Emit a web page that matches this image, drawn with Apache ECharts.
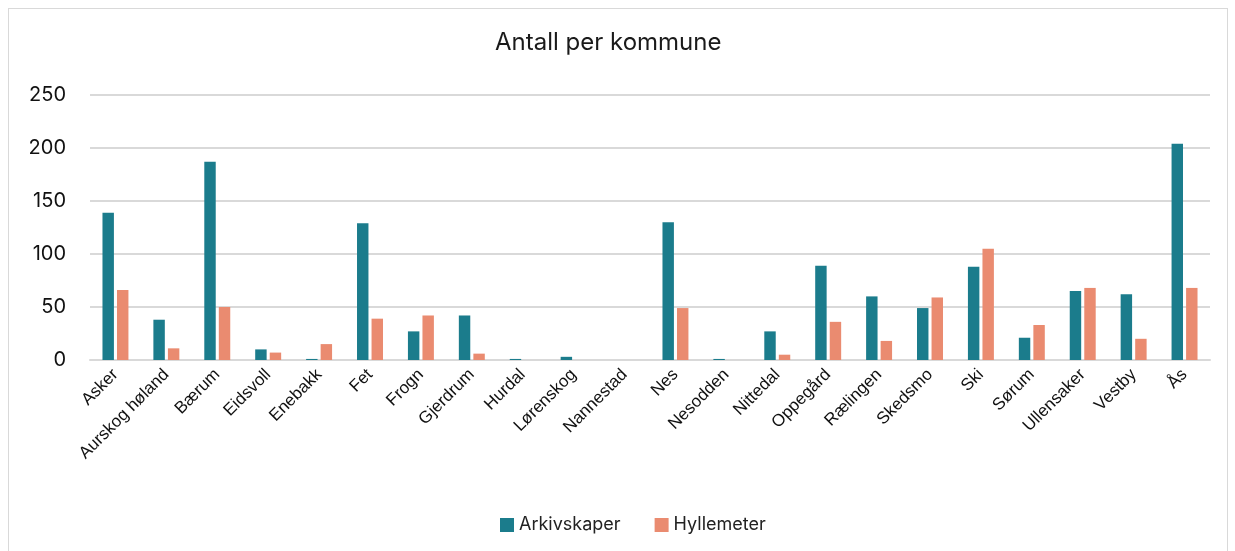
<!DOCTYPE html>
<html>
<head>
<meta charset="utf-8">
<script src="https://cdn.jsdelivr.net/npm/echarts@6/dist/echarts.min.js"></script>
<style>
  html, body { margin: 0; padding: 0; background: #fff; }
  #chart-container {
    position: absolute; left: 8px; top: 8px;
    width: 1220px; height: 550px;
    border: 1px solid #d9d9d9; box-sizing: border-box;
  }
</style>
</head>
<body>
<div id="chart-container"></div>
<script>
var kommuner = ['Asker', 'Aurskog høland', 'Bærum', 'Eidsvoll', 'Enebakk', 'Fet', 'Frogn',
  'Gjerdrum', 'Hurdal', 'Lørenskog', 'Nannestad', 'Nes', 'Nesodden', 'Nittedal', 'Oppegård',
  'Rælingen', 'Skedsmo', 'Ski', 'Sørum', 'Ullensaker', 'Vestby', 'Ås'];
var arkivskaper = [139, 38, 187, 10, 1, 129, 27, 42, 1, 3, 0, 130, 1, 27, 89, 60, 49, 88, 21, 65, 62, 204];
var hyllemeter = [66, 11, 50, 7, 15, 39, 42, 6, 0, 0, 0, 49, 0, 5, 36, 18, 59, 105, 33, 68, 20, 68];
var yTicks = [0, 50, 100, 150, 200, 250];

var dom = document.getElementById('chart-container');
var myChart = echarts.init(dom, null, { renderer: 'canvas' });

var option = {
  animation: false,
  title: {
    text: 'Antall per kommune',
    left: 481,
    top: 17,
    textStyle: { fontFamily: 'Inter', fontWeight: 'normal', fontSize: 24, color: '#1a1a1a' }
  },
  legend: {
    bottom: 18,
    left: 486,
    itemWidth: 14,
    itemHeight: 14,
    itemGap: 34,
    icon: 'rect',
    textStyle: { fontFamily: 'Inter', fontSize: 18, color: '#222' },
    data: ['Arkivskaper', 'Hyllemeter']
  },
  grid: { left: 81, right: 17, top: 86, bottom: 197 },
  xAxis: {
    type: 'category',
    data: kommuner,
    axisTick: { show: false },
    axisLine: { lineStyle: { color: '#d9d9d9', width: 2 } },
    axisLabel: {
      interval: 0,
      rotate: 45,
      margin: 12,
      fontFamily: 'Liberation Sans',
      fontSize: 17,
      color: '#111'
    }
  },
  yAxis: {
    type: 'value',
    min: yTicks[0],
    max: yTicks[yTicks.length - 1],
    interval: 50,
    axisLine: { show: false },
    axisTick: { show: false },
    splitLine: { lineStyle: { color: '#d9d9d9', width: 2 } },
    axisLabel: { fontFamily: 'Inter', fontSize: 20, color: '#111', margin: 24 }
  },
  series: [
    {
      name: 'Arkivskaper',
      type: 'bar',
      data: arkivskaper,
      barGap: '27%',
      barCategoryGap: '49%',
      itemStyle: { color: '#1b7c8c' }
    },
    {
      name: 'Hyllemeter',
      type: 'bar',
      data: hyllemeter,
      itemStyle: { color: '#ea8b70' }
    }
  ]
};

myChart.setOption(option);
window.addEventListener('resize', myChart.resize);
</script>
</body>
</html>
